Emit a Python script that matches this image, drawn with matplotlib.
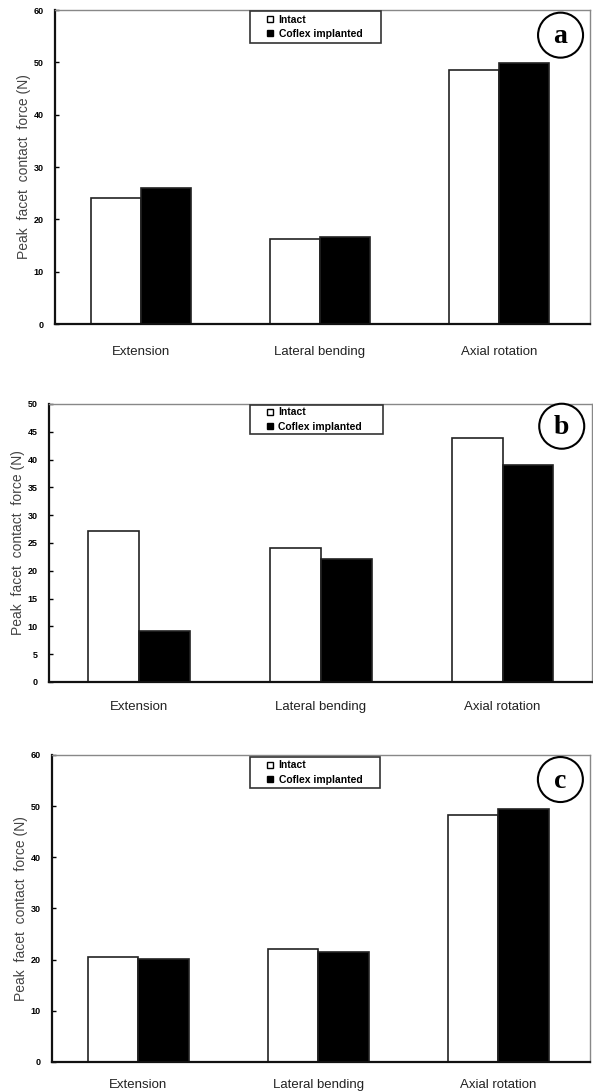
import numpy as np
import matplotlib.pyplot as plt
from matplotlib.lines import Line2D
from matplotlib.patches import Ellipse, Rectangle

plt.rcParams['font.family'] = ['Liberation Sans', 'DejaVu Sans']

categories = ['Extension', 'Lateral bending', 'Axial rotation']
series = ['Intact', 'Coflex implanted']

intact_a = [24.1, 16.2, 48.6]
coflex_a = [26.0, 16.6, 49.9]
intact_b = [27.1, 24.1, 43.9]
coflex_b = [9.2, 22.1, 39.0]
intact_c = [20.6, 22.1, 48.3]
coflex_c = [20.1, 21.5, 49.4]

ylims = [60, 50, 60]
ysteps = [10, 5, 10]
panel_labels = ['a', 'b', 'c']

# axes rectangles in figure fraction (left, bottom, width, height)
rects = [(0.0927, 0.7030, 0.9022, 0.2878),
         (0.0826, 0.3749, 0.9150, 0.2548),
         (0.0877, 0.0266, 0.9072, 0.2814)]
xlims = [(-0.48, 2.51), (-0.495, 2.49), (-0.48, 2.51)]
cat_pad = [16, 14, 12]
# legend boxes in axes fraction (x0, x1, y0, y1)
leg_boxes = [(0.3645, 0.609, 0.895, 0.997),
             (0.3702, 0.6151, 0.892, 0.996),
             (0.368, 0.6097, 0.8925, 0.9935)]

fig = plt.figure(figsize=(5.93, 10.91), dpi=100)

data = [(intact_a, coflex_a), (intact_b, coflex_b), (intact_c, coflex_c)]
x = np.arange(len(categories))
w = 0.28

for i, (intact, coflex) in enumerate(data):
    ax = fig.add_axes(rects[i])
    ax.bar(x - w / 2, intact, w, color='white', edgecolor='#222222', linewidth=1.2)
    ax.bar(x + w / 2, coflex, w, color='black', edgecolor='#222222', linewidth=1.2)
    ax.set_xlim(*xlims[i])
    ax.set_ylim(0, ylims[i])
    ax.set_yticks(np.arange(0, ylims[i] + 1, ysteps[i]))
    ax.tick_params(axis='y', direction='in', length=3, width=1, labelsize=6.5, pad=8)
    for t in ax.get_yticklabels():
        t.set_fontweight('bold')
    ax.set_xticks(x)
    ax.set_xticklabels(categories, fontsize=9.5, color='#222222')
    ax.tick_params(axis='x', length=0, pad=cat_pad[i])
    ax.set_ylabel('Peak  facet  contact  force (N)', fontsize=10, color='#444444', labelpad=2)
    for s in ['left', 'bottom']:
        ax.spines[s].set_linewidth(1.6)
        ax.spines[s].set_color('#111111')
    for s in ['top', 'right']:
        ax.spines[s].set_linewidth(1.0)
        ax.spines[s].set_color('#888888')

    bbox = ax.get_window_extent()
    x0, x1, y0, y1 = leg_boxes[i]
    ax.add_patch(Rectangle((x0, y0), x1 - x0, y1 - y0, transform=ax.transAxes,
                           facecolor='white', edgecolor='#333333', linewidth=1.2,
                           clip_on=False, zorder=4))
    handles = [Line2D([], [], marker='s', linestyle='none', markersize=5,
                      markerfacecolor='white', markeredgecolor='black', markeredgewidth=1),
               Line2D([], [], marker='s', linestyle='none', markersize=5,
                      markerfacecolor='black', markeredgecolor='black')]
    leg = ax.legend(handles, series, loc='center left',
                    bbox_to_anchor=(x0 + 15 / bbox.width, (y0 + y1) / 2),
                    prop={'size': 7.5, 'weight': 'bold'}, frameon=False,
                    handletextpad=0.3, handlelength=1.0, borderpad=0,
                    labelspacing=0.4, borderaxespad=0)
    leg.set_zorder(5)

    # circled panel letter
    ax.add_patch(Ellipse((0.945, 0.92), 45 / bbox.width, 45 / bbox.height,
                         transform=ax.transAxes, facecolor='white',
                         edgecolor='black', linewidth=1.5, clip_on=False, zorder=5))
    ax.text(0.945, 0.915, panel_labels[i], transform=ax.transAxes, ha='center', va='center',
            fontsize=20, fontweight='bold', family=['Liberation Serif', 'DejaVu Serif'],
            zorder=6)

fig.savefig('out.png', dpi=100)
